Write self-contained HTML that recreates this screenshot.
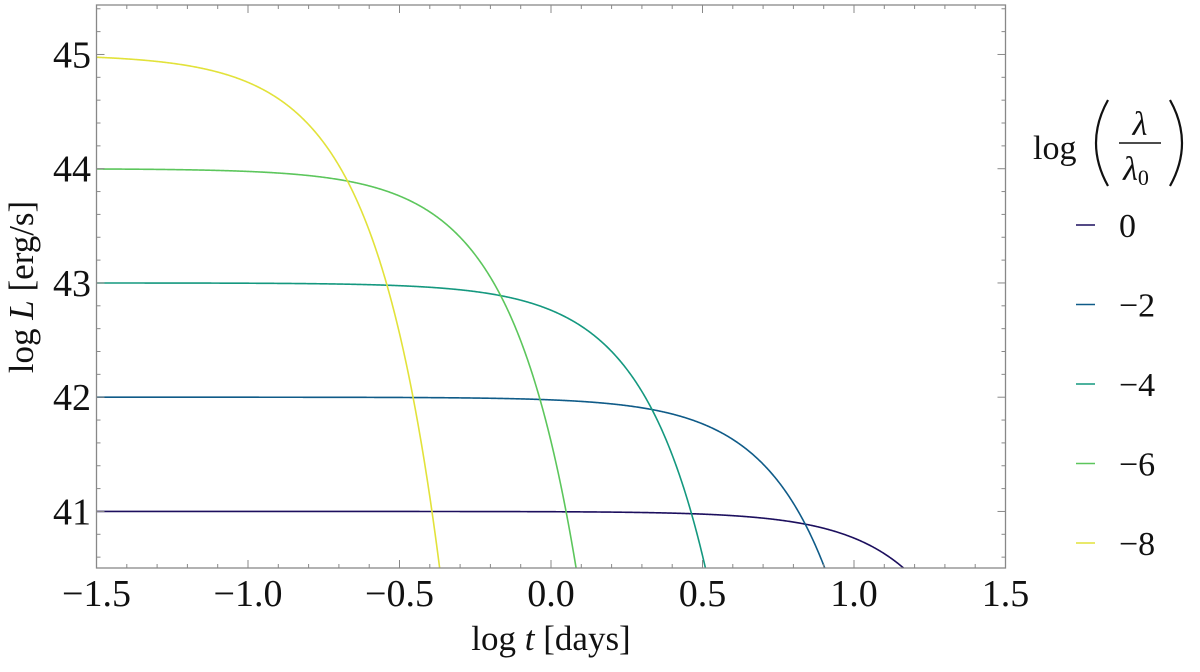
<!DOCTYPE html>
<html><head><meta charset="utf-8"><style>
html,body{margin:0;padding:0;background:#fff;}
text{font-family:"Liberation Serif","DejaVu Serif",serif !important;fill:#111;}
</style></head><body>
<svg id="chart" width="1200" height="667" xmlns="http://www.w3.org/2000/svg" font-family="Liberation Serif, DejaVu Serif, serif">
<rect x="0" y="0" width="1200" height="667" fill="#fff"/>
<g id="plot"></g>
<g id="axes"></g>
<g id="legend"></g>
</svg>
<script>
// Data
const seriesLabels = ["0", "\u22122", "\u22124", "\u22126", "\u22128"];
const seriesColors = ["#1c0f5e", "#0f5b88", "#14987f", "#5cc65c", "#e2e23a"];
const plateauLogL = [41, 42, 43, 44, 45];           // plateau value of log L
const breakLogT = [1.135, 0.635, 0.13, -0.37, -0.875]; // characteristic log t of the drop
const xTicks = [-1.5, -1.0, -0.5, 0.0, 0.5, 1.0, 1.5];
const xTickLabels = ["\u22121.5", "\u22121.0", "\u22120.5", "0.0", "0.5", "1.0", "1.5"];
const yTicks = [41, 42, 43, 44, 45];
const yTickLabels = ["41", "42", "43", "44", "45"];

const NS = "http://www.w3.org/2000/svg";
const X0 = 96.5, X1 = 1005.5, Y0 = 5, Y1 = 568;
const xMin = -1.5, xMax = 1.5, yMin = 40.505, yMax = 45.433;
const sx = v => X0 + (v - xMin) / (xMax - xMin) * (X1 - X0);
const sy = v => Y1 - (v - yMin) / (yMax - yMin) * (Y1 - Y0);
function mk(tag, attrs, parent) {
  const e = document.createElementNS(NS, tag);
  for (const k in attrs) e.setAttribute(k, attrs[k]);
  if (tag === "text") e.setAttribute("font-family", "Liberation Serif, DejaVu Serif, serif");
  parent.appendChild(e);
  return e;
}
const plot = document.getElementById("plot");
const axes = document.getElementById("axes");
const legend = document.getElementById("legend");

const defs = mk("defs", {}, plot);
const cp = mk("clipPath", {id: "clip"}, defs);
mk("rect", {x: X0, y: Y0, width: X1 - X0, height: Y1 - Y0}, cp);

for (let i = 0; i < plateauLogL.length; i++) {
  let d = "";
  for (let k = 0; k <= 1200; k++) {
    const lt = xMin + (xMax - xMin) * k / 1200;
    const drop = Math.pow(10, 2 * (lt - breakLogT[i])) / Math.LN10;
    let ll = plateauLogL[i] - drop;
    if (ll < yMin - 0.3) { ll = yMin - 0.3; d += (d ? "L" : "M") + sx(lt).toFixed(2) + "," + sy(ll).toFixed(2); break; }
    d += (d ? "L" : "M") + sx(lt).toFixed(2) + "," + sy(ll).toFixed(2);
  }
  const p = mk("path", {d: d, fill: "none", stroke: seriesColors[i], "stroke-width": 1.6, "clip-path": "url(#clip)"}, plot);
  
  
}

const frame = mk("rect", {x: X0, y: Y0, width: X1 - X0, height: Y1 - Y0, fill: "none", stroke: "#888", "stroke-width": 1.3}, axes);



for (let v = -1.5; v <= 1.5001; v += 0.1) {
  const major = Math.abs(v * 2 - Math.round(v * 2)) < 1e-6;
  const len = major ? 8 : 4;
  const x = sx(v);
  mk("line", {x1: x, y1: Y1, x2: x, y2: Y1 - len, stroke: "#888", "stroke-width": 1}, axes);
  mk("line", {x1: x, y1: Y0, x2: x, y2: Y0 + len, stroke: "#888", "stroke-width": 1}, axes);
}
for (let v = 40.6; v <= 45.4001; v += 0.2) {
  const major = Math.abs(v - Math.round(v)) < 1e-6;
  const len = major ? 8 : 4;
  const y = sy(v);
  mk("line", {x1: X0, y1: y, x2: X0 + len, y2: y, stroke: "#888", "stroke-width": 1}, axes);
  mk("line", {x1: X1, y1: y, x2: X1 - len, y2: y, stroke: "#888", "stroke-width": 1}, axes);
}
xTicks.forEach((v, i) => {
  const t = mk("text", {x: sx(v), y: 606, "text-anchor": "middle", "font-size": 38}, axes);
  t.textContent = xTickLabels[i];
  
  
});
yTicks.forEach((v, i) => {
  const t = mk("text", {x: 91, y: sy(v) + 13, "text-anchor": "end", "font-size": 38}, axes);
  t.textContent = yTickLabels[i];
  
  
});
const xt = mk("text", {x: 551, y: 650, "text-anchor": "middle", "font-size": 35}, axes);
xt.innerHTML = 'log <tspan font-style="italic">t</tspan> [days]';


const yt = mk("text", {x: 0, y: 0, "text-anchor": "middle", "font-size": 35, transform: "translate(33,287) rotate(-90)"}, axes);
yt.innerHTML = 'log <tspan font-style="italic">L</tspan> [erg/s]';



const lt = mk("text", {x: 1033, y: 159, "font-size": 34}, legend);
lt.textContent = "log";


// big delimiters as thin strokes
const pl = mk("path", {d: "M1108,100 Q1084,143 1108,186", fill: "none", stroke: "#111", "stroke-width": 2.2}, legend);


const pr = mk("path", {d: "M1170,100 Q1194,143 1170,186", fill: "none", stroke: "#111", "stroke-width": 2.2}, legend);


const lnum = mk("text", {x: 1140, y: 135, "font-size": 34, "font-style": "italic", "text-anchor": "middle"}, legend);
lnum.textContent = "\u03bb";
mk("line", {x1: 1119, y1: 143, x2: 1161, y2: 143, stroke: "#111", "stroke-width": 1.5}, legend);
const lden = mk("text", {x: 1136, y: 180, "font-size": 34, "font-style": "italic", "text-anchor": "middle"}, legend);
lden.innerHTML = '\u03bb<tspan font-size="22" font-style="normal" dy="5">0</tspan>';

seriesLabels.forEach((lab, i) => {
  const y = 225 + i * 79.5;
  const g = mk("g", {}, legend);
  
  
  mk("line", {x1: 1076, y1: y, x2: 1095, y2: y, stroke: seriesColors[i], "stroke-width": 1.6}, g);
  const t = mk("text", {x: 1119, y: y + 12, "font-size": 34}, g);
  t.textContent = lab;
});
</script>
</body></html>
